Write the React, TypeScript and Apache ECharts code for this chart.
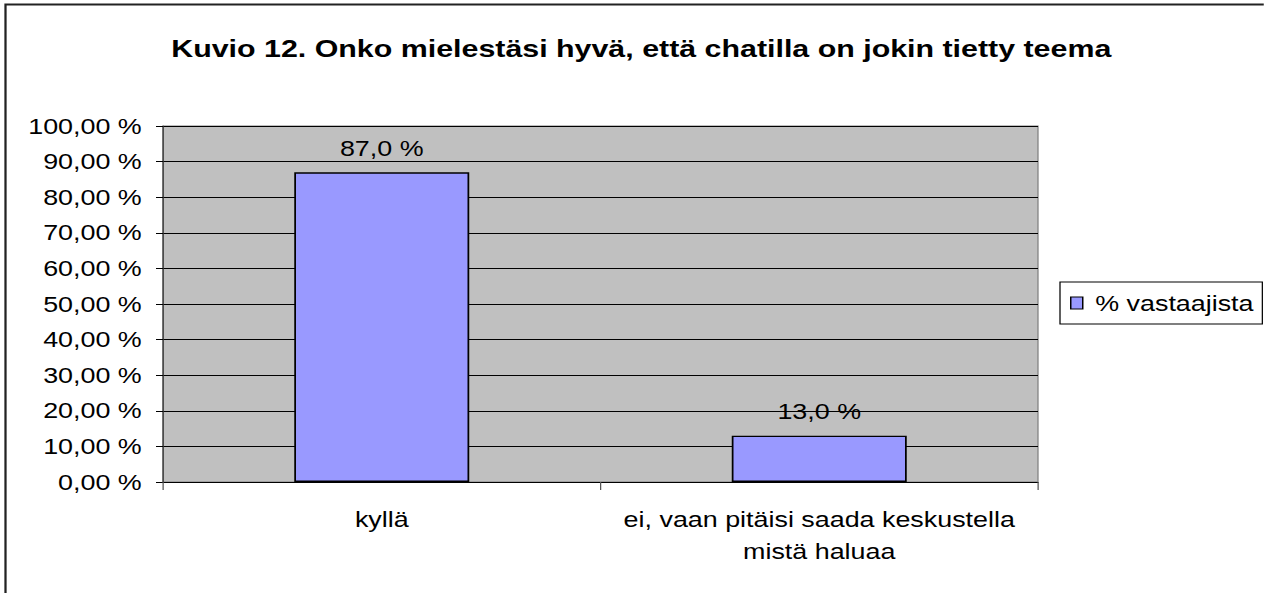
import React, { useEffect, useRef } from "react";
import * as echarts from "echarts";

const titleText = "Kuvio 12. Onko mielestäsi hyvä, että chatilla on jokin tietty teema";
const categories = ["kyllä", "ei, vaan pitäisi saada keskustella\nmistä haluaa"];
const seriesName = "% vastaajista";
const values = [87.0, 13.0];
const yMin = 0;
const yMax = 100;
const yStep = 10;

const fmtAxis = (v: number) => v.toFixed(2).replace(".", ",") + " %";
const fmtLabel = (v: number) => v.toFixed(1).replace(".", ",") + " %";

// the reference is horizontally stretched; draw narrower and stretch with CSS
const SX = 1.25;
const W = 1264 / SX;

export default function App() {
  const ref = useRef<HTMLDivElement>(null);
  useEffect(() => {
    const chart = echarts.init(ref.current!, null, { renderer: "svg" });
    const font = "Liberation Sans, Arial, sans-serif";
    const fs = 21.5;
    chart.setOption({
      animation: false,
      backgroundColor: "#ffffff",
      textStyle: { fontFamily: font },
      title: {
        text: titleText,
        left: 508,
        top: 32,
        textAlign: "center",
        textStyle: { fontSize: 24.3, fontWeight: "bold", color: "#000", fontFamily: font },
      },
      graphic: [
        {
          type: "rect",
          shape: { x: 4.4, y: 4.5, width: 1400, height: 700 },
          style: { fill: "none", stroke: "#222", lineWidth: 1.8 },
          silent: true,
          z: 100,
        },
      ],
      legend: {
        left: 848,
        top: 282,
        orient: "vertical",
        icon: "rect",
        itemWidth: 9.6,
        itemHeight: 12,
        padding: [10, 7, 10, 8],
        borderColor: "#000",
        borderWidth: 1,
        textStyle: { fontSize: fs, lineHeight: 22, color: "#000", fontFamily: font, padding: [0, 0, 0, 5] },
        itemStyle: { borderColor: "#000", borderWidth: 1.2 },
        data: [seriesName],
      },
      grid: {
        left: 130.4,
        top: 126,
        width: 700,
        height: 356,
        show: true,
        backgroundColor: "#C0C0C0",
        borderColor: "#808080",
        borderWidth: 1,
        containLabel: false,
      },
      xAxis: {
        type: "category",
        data: categories,
        axisLine: { show: true, lineStyle: { color: "#000", width: 1 } },
        axisTick: { show: true, length: 8, lineStyle: { color: "#555" } },
        axisLabel: {
          interval: 0,
          hideOverlap: false,
          fontSize: fs,
          color: "#000",
          margin: 22.5,
          lineHeight: 31,
          align: "center",
          fontFamily: font,
        },
      },
      yAxis: {
        type: "value",
        min: yMin,
        max: yMax,
        interval: yStep,
        axisLine: { show: true, lineStyle: { color: "#333", width: 1 } },
        axisTick: { show: true, length: 5.6, lineStyle: { color: "#000" } },
        axisLabel: { fontSize: fs, color: "#000", margin: 17, formatter: fmtAxis, fontFamily: font },
        splitLine: { show: true, lineStyle: { color: "#000", width: 1 } },
      },
      series: [
        {
          name: seriesName,
          type: "bar",
          data: values,
          barWidth: "40%",
          itemStyle: { color: "#9999FF", borderColor: "#000", borderWidth: 1.4 },
          label: {
            show: true,
            position: "top",
            distance: 13,
            formatter: (p: any) => fmtLabel(p.value),
            fontSize: fs,
            color: "#000",
            fontFamily: font,
          },
        },
      ],
    });
    return () => chart.dispose();
  }, []);
  return (
    <div
      ref={ref}
      style={{
        position: "absolute",
        left: 0,
        top: 0,
        width: W,
        height: 593,
        transform: `scaleX(${SX})`,
        transformOrigin: "0 0",
      }}
    />
  );
}
